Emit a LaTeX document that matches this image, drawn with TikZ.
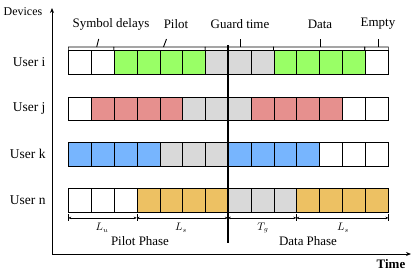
\documentclass[tikz,border=0pt]{standalone}
\usepackage{fontspec}
\setmainfont{Liberation Serif}
\usetikzlibrary{arrows.meta}

\definecolor{pilotgreen}{HTML}{99FF66}
\definecolor{pilotred}{HTML}{E6908E}
\definecolor{pilotblue}{HTML}{77B5FE}
\definecolor{pilotorange}{HTML}{EDC163}
\definecolor{guardgray}{HTML}{D9D9D9}

\tikzset{
  cell/.style={draw,line width=0.9bp,minimum width=22.8bp,minimum height=23.5bp,anchor=north west,inner sep=0pt},
  user/.style={anchor=east,font=\fontsize{13.5}{15}\selectfont},
  toplabel/.style={font=\fontsize{13}{15}\selectfont},
  dimlabel/.style={font=\fontsize{10.5}{12}\selectfont},
  dimline/.style={{Stealth[length=3bp,width=2.5bp]}-{Stealth[length=3bp,width=2.5bp]},line width=0.4bp}
}

\begin{document}
\begin{tikzpicture}[x=1bp,y=-1bp]
    \useasboundingbox (0,0) rectangle (415,273);

    % axes
    \coordinate (o) at (52,254);
    \coordinate (ytop) at (52,8);
    \coordinate (xend) at (411,254);
    \draw[-{Stealth[length=5bp,width=4bp]},line width=1bp] (o) -- (ytop);
    \draw[-{Stealth[length=5bp,width=4bp]},line width=1bp] (o) -- (xend);
    \node[font=\fontsize{12}{14}\selectfont] (devices) at (23,12) {Devices};
    \node[font=\bfseries\fontsize{13}{15}\selectfont] (time) at (391,264) {Time};

    % slots of each user
    \foreach \c [count=\k] in {white,white,pilotgreen,pilotgreen,pilotgreen,pilotgreen,guardgray,guardgray,guardgray,pilotgreen,pilotgreen,pilotgreen,pilotgreen,white}
      \node[cell,fill=\c] (i\k) at (68.3+22.8*\k-22.8,50) {};
    \foreach \c [count=\k] in {white,pilotred,pilotred,pilotred,pilotred,guardgray,guardgray,guardgray,pilotred,pilotred,pilotred,pilotred,white,white}
      \node[cell,fill=\c] (j\k) at (68.3+22.8*\k-22.8,96.5) {};
    \foreach \c [count=\k] in {pilotblue,pilotblue,pilotblue,pilotblue,guardgray,guardgray,guardgray,pilotblue,pilotblue,pilotblue,pilotblue,white,white,white}
      \node[cell,fill=\c] (k\k) at (68.3+22.8*\k-22.8,142) {};
    \foreach \c [count=\k] in {white,white,white,pilotorange,pilotorange,pilotorange,pilotorange,guardgray,guardgray,guardgray,pilotorange,pilotorange,pilotorange,pilotorange}
      \node[cell,fill=\c] (n\k) at (68.3+22.8*\k-22.8,188) {};

    \node[user] (useri) at (49,62) {User i};
    \node[user] (userj) at (49,108) {User j};
    \node[user] (userk) at (49,154) {User k};
    \node[user] (usern) at (49,200) {User n};

    % phase border
    \coordinate (bordertop) at (228,45);
    \coordinate (borderbot) at (228,243);
    \draw[line width=1.6bp] (bordertop) -- (borderbot);

    % braces over user i
    \draw[line width=0.6bp] (i1.north west) -- ++(0,-3) -- ([yshift=3bp]i3.north west) -- (i3.north west);
    \draw[line width=0.6bp] (i3.north west) -- ++(0,-3) -- ([yshift=3bp]i7.north west) -- (i7.north west);
    \draw[line width=0.6bp] (i7.north west) -- ++(0,-3) -- ([yshift=3bp]i10.north west) -- (i10.north west);
    \draw[line width=0.6bp] (i10.north west) -- ++(0,-3) -- ([yshift=3bp]i14.north west) -- (i14.north west);
    \draw[line width=0.6bp] (i14.north west) -- ++(0,-3) -- ([yshift=3bp]i14.north east) -- (i14.north east);

    \node[toplabel] (sdlab) at (111,24) {Symbol delays};
    \node[toplabel] (pilab) at (176,24) {Pilot};
    \node[toplabel] (gtlab) at (240,24) {Guard time};
    \node[toplabel] (dalab) at (320,24) {Data};
    \node[toplabel] (emlab) at (378,24) {Empty};

    \draw[line width=0.9bp] (96.7,47) -- (98.7,39);
    \draw[line width=0.9bp] (163.5,47) -- (166.5,39);
    \draw[line width=0.9bp] (240,47) -- (240,39);
    \draw[line width=0.9bp] (320,47) -- (320,39);
    \draw[line width=0.9bp] (378,47) -- (378,39);

    % lengths under user n
    \foreach \a/\b in {1/4,4/8,8/11}
      \draw[dimline] ([yshift=-5.5bp]n\a.south west) -- ([yshift=-5.5bp]n\b.south west);
    \draw[dimline] ([yshift=-5.5bp]n11.south west) -- ([yshift=-5.5bp]n14.south east);
    \foreach \k in {1,4,8,11}
      \draw[line width=0.4bp] ([yshift=-2bp]n\k.south west) -- ([yshift=-9bp]n\k.south west);
    \draw[line width=0.4bp] ([yshift=-2bp]n14.south east) -- ([yshift=-9bp]n14.south east);

    \node[dimlabel] (lu) at (102,228) {$L_u$};
    \node[dimlabel] (ls1) at (181,228) {$L_s$};
    \node[dimlabel] (tg) at (263,228) {$T_g$};
    \node[dimlabel] (ls2) at (343,228) {$L_s$};
    \node[toplabel] (pphase) at (140,241) {Pilot Phase};
    \node[toplabel] (dphase) at (308,241) {Data Phase};
\end{tikzpicture}
\end{document}
